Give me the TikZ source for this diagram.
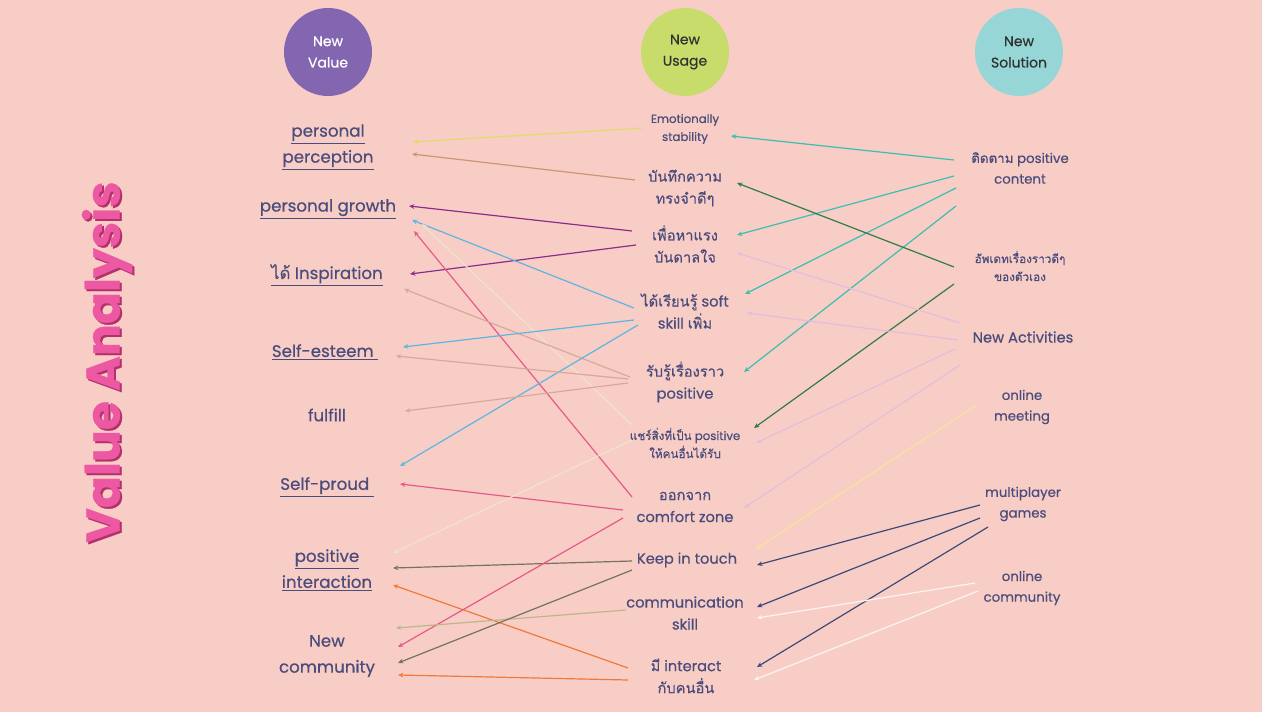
\documentclass[tikz,border=0pt]{standalone}
\usepackage{fontspec}
\setmainfont{Poppins}[FakeBold=0.45]
\newfontfamily\thaifont[Script=Thai, FakeBold=0.45]{Loma}
\usepackage{tikz}
\usetikzlibrary{positioning}
\usetikzlibrary{arrows.meta}

\definecolor{bgPink}{HTML}{F8CDC6}
\definecolor{inkBlue}{HTML}{4A4C7C}
\definecolor{headInk}{HTML}{2E3330}
\definecolor{valPurple}{HTML}{8466B0}
\definecolor{useGreen}{HTML}{C8DC6C}
\definecolor{solCyan}{HTML}{96D6D6}
\definecolor{titlePink}{HTML}{EC58A2}
\definecolor{titleEdge}{HTML}{B4306C}
\definecolor{lnYellow}{HTML}{E2DB6C}
\definecolor{lnTan}{HTML}{CC9670}
\definecolor{lnPurple}{HTML}{8B2D8C}
\definecolor{lnBlue}{HTML}{5DB6E2}
\definecolor{lnPink}{HTML}{E65A8A}
\definecolor{lnCream}{HTML}{EDE3CF}
\definecolor{lnRose}{HTML}{D6A999}
\definecolor{lnOlive}{HTML}{767260}
\definecolor{lnOrange}{HTML}{EF7A3A}
\definecolor{lnSage}{HTML}{BAB88A}
\definecolor{lnTeal}{HTML}{3DBEB0}
\definecolor{lnGreen}{HTML}{2F7C48}
\definecolor{lnLav}{HTML}{E4BDDD}
\definecolor{lnLemon}{HTML}{FBE29A}
\definecolor{lnNavy}{HTML}{3D4A78}
\definecolor{lnWhite}{HTML}{FBF4F1}

\tikzset{
    head/.style={circle, minimum size=66pt, inner sep=0pt, align=center, font=\fontsize{10.5}{16}\selectfont},
    valitem/.style={text=inkBlue, align=center, inner sep=1pt, font=\fontsize{12.5}{19.5}\selectfont},
    useitem/.style={text=inkBlue, align=center, inner sep=1pt, font=\fontsize{11}{16.5}\selectfont},
    usesmall/.style={font=\fontsize{8.8}{13.5}\selectfont},
    solitem/.style={text=inkBlue, align=center, inner sep=1pt, font=\fontsize{10}{15.5}\selectfont},
    link/.style={-{Stealth[length=4pt,width=3.5pt]}, line width=0.9pt},
}

\begin{document}
\begin{tikzpicture}[x=0.75pt, y=-0.75pt]

    \fill[bgPink] (0,0) rectangle (1262,712);
    \useasboundingbox (0,0) rectangle (1262,712);

    \node[rotate=90, text=titleEdge, font=\fontsize{35.5}{40}\selectfont\bfseries] (title2) at (109,364) {Value Analysis};
    \node[rotate=90, text=titlePink, font=\fontsize{35.5}{40}\selectfont\bfseries] (title) at (107,362) {Value Analysis};

    \node[head, fill=valPurple, text=white] (hval) at (328,52) {New\\Value};
    \node[head, fill=useGreen, text=headInk] (huse) at (685,52) {New\\Usage};
    \node[head, fill=solCyan, text=headInk] (hsol) at (1019,52) {New\\Solution};

    \node[valitem] (perc) at (328,147) {\underline{personal}\\\underline{perception}};
    \node[valitem] (growth) at (328,209) {\underline{personal growth}};
    \node[valitem] (insp) at (327,275) {\underline{{\thaifont ได้} Inspiration}};
    \node[valitem] (esteem) at (325,352) {\underline{Self-esteem\ }};
    \node[valitem] (fulfill) at (327,415) {fulfill};
    \node[valitem] (proud) at (327,487) {\underline{Self-proud\ }};
    \node[valitem] (posint) at (327,570) {\underline{positive}\\\underline{interaction}};
    \node[valitem] (newcom) at (327,656) {New\\community};

    \node[useitem, usesmall] (emo) at (685,129) {Emotionally\\stability};
    \node[useitem] (memo) at (685,188) {{\thaifont บันทึกความ}\\{\thaifont ทรงจำดีๆ}};
    \node[useitem] (inspire) at (685,244) {{\thaifont เพื่อหาแรง}\\{\thaifont บันดาลใจ}};
    \node[useitem] (soft) at (685,311) {{\thaifont ได้เรียนรู้} soft\\skill {\thaifont เพิ่ม}};
    \node[useitem] (aware) at (685,382) {{\thaifont รับรู้เรื่องราว}\\positive};
    \node[useitem, usesmall] (share) at (685,443) {{\thaifont แชร์สิ่งที่เป็น} positive\\{\thaifont ให้คนอื่นได้รับ}};
    \node[useitem] (comfort) at (685,507) {{\thaifont ออกจาก}\\comfort zone};
    \node[useitem] (keep) at (687,560) {Keep in touch};
    \node[useitem] (commskill) at (685,613) {communication\\skill};
    \node[useitem] (interact) at (686,676) {{\thaifont มี} interact\\{\thaifont กับคนอื่น}};

    \node[solitem] (follow) at (1020,168) {{\thaifont ติดตาม} positive\\content};
    \node[solitem, usesmall] (update) at (1020,266) {{\thaifont อัพเดทเรื่องราวดีๆ}\\{\thaifont ของตัวเอง}};
    \node[solitem, font=\fontsize{11}{16}\selectfont] (activ) at (1023,337) {New Activities};
    \node[solitem] (meeting) at (1022,407) {online\\meeting};
    \node[solitem] (games) at (1023,504) {multiplayer\\games};
    \node[solitem] (onlinecom) at (1022,588) {online\\community};

    \draw[link, lnYellow] ([shift={(-42,-1)}]emo.center) -- ([shift={(85,-5)}]perc.center);
    \draw[link, lnTan] ([shift={(-50,-8)}]memo.center) -- ([shift={(84,7)}]perc.center);
    \draw[link, lnPurple] ([shift={(-53,-13)}]inspire.center) -- ([shift={(81,-3)}]growth.center);
    \draw[link, lnPurple] ([shift={(-49,1)}]inspire.center) -- ([shift={(83,-1)}]insp.center);
    \draw[link, lnBlue] ([shift={(-51,-3)}]soft.center) -- ([shift={(84,11)}]growth.center);
    \draw[link, lnPink] ([shift={(-53,-10)}]comfort.center) -- ([shift={(86,22)}]growth.center);
    \draw[link, lnCream] ([shift={(-53,-18)}]share.center) -- ([shift={(94,15)}]growth.center);
    \draw[link, lnRose] ([shift={(-55,-5)}]aware.center) -- ([shift={(77,14)}]insp.center);
    \draw[link, lnBlue] ([shift={(-51,9)}]soft.center) -- ([shift={(78,-5)}]esteem.center);
    \draw[link, lnBlue] ([shift={(-47,14)}]soft.center) -- ([shift={(73,-21)}]proud.center);
    \draw[link, lnRose] ([shift={(-57,-3)}]aware.center) -- ([shift={(71,4)}]esteem.center);
    \draw[link, lnRose] ([shift={(-57,1)}]aware.center) -- ([shift={(78,-4)}]fulfill.center);
    \draw[link, lnPink] ([shift={(-62,3)}]comfort.center) -- ([shift={(73,-3)}]proud.center);
    \draw[link, lnCream] ([shift={(-53,-3)}]share.center) -- ([shift={(66,-17)}]posint.center);
    \draw[link, lnOlive] ([shift={(-55,1)}]keep.center) -- ([shift={(66,-2)}]posint.center);
    \draw[link, lnOrange] ([shift={(-58,-8)}]interact.center) -- ([shift={(66,15)}]posint.center);
    \draw[link, lnPink] ([shift={(-62,11)}]comfort.center) -- ([shift={(71,-9)}]newcom.center);
    \draw[link, lnSage] ([shift={(-59,-3)}]commskill.center) -- ([shift={(69,-28)}]newcom.center);
    \draw[link, lnOlive] ([shift={(-55,10)}]keep.center) -- ([shift={(71,7)}]newcom.center);
    \draw[link, lnOrange] ([shift={(-58,4)}]interact.center) -- ([shift={(71,19)}]newcom.center);

    \draw[link, lnTeal] ([shift={(-66,-8)}]follow.center) -- ([shift={(46,7)}]emo.center);
    \draw[link, lnTeal] ([shift={(-66,8)}]follow.center) -- ([shift={(52,-9)}]inspire.center);
    \draw[link, lnTeal] ([shift={(-64,20)}]follow.center) -- ([shift={(60,-17)}]soft.center);
    \draw[link, lnTeal] ([shift={(-64,38)}]follow.center) -- ([shift={(59,-10)}]aware.center);
    \draw[link, lnGreen] ([shift={(-66,1)}]update.center) -- ([shift={(52,-5)}]memo.center);
    \draw[link, lnGreen] ([shift={(-66,18)}]update.center) -- ([shift={(69,-15)}]share.center);
    \draw[link, lnLav] ([shift={(-63,-14)}]activ.center) -- ([shift={(52,9)}]inspire.center);
    \draw[link, lnLav] ([shift={(-65,3)}]activ.center) -- ([shift={(62,2)}]soft.center);
    \draw[link, lnLav] ([shift={(-68,12)}]activ.center) -- ([shift={(71,0)}]share.center);
    \draw[link, lnLav] ([shift={(-63,28)}]activ.center) -- ([shift={(59,1)}]comfort.center);
    \draw[link, lnLemon] ([shift={(-47,-1)}]meeting.center) -- ([shift={(69,-11)}]keep.center);
    \draw[link, lnNavy] ([shift={(-43,1)}]games.center) -- ([shift={(70,5)}]keep.center);
    \draw[link, lnNavy] ([shift={(-43,14)}]games.center) -- ([shift={(72,-6)}]commskill.center);
    \draw[link, lnNavy] ([shift={(-35,23)}]games.center) -- ([shift={(71,-9)}]interact.center);
    \draw[link, lnWhite] ([shift={(-47,-5)}]onlinecom.center) -- ([shift={(72,5)}]commskill.center);
    \draw[link, lnWhite] ([shift={(-44,3)}]onlinecom.center) -- ([shift={(68,4)}]interact.center);

\end{tikzpicture}
\end{document}
